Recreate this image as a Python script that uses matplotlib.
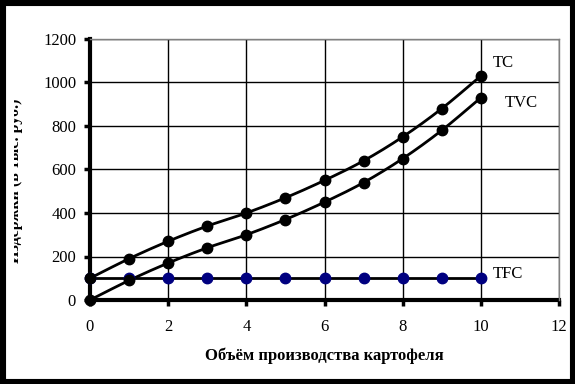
import numpy as np
import matplotlib
matplotlib.use("Agg")
import matplotlib.pyplot as plt
from matplotlib.patches import Rectangle
from matplotlib.transforms import Bbox

q = [0, 1, 2, 3, 4, 5, 6, 7, 8, 9, 10]
tc = [100, 190, 270, 340, 400, 470, 550, 640, 750, 880, 1030]
tvc = [0, 90, 170, 240, 300, 370, 450, 540, 650, 780, 930]
tfc = [100, 100, 100, 100, 100, 100, 100, 100, 100, 100, 100]
x_ticks = [0, 2, 4, 6, 8, 10, 12]
y_ticks = [0, 200, 400, 600, 800, 1000, 1200]

serif = ["Liberation Serif", "DejaVu Serif"]
plt.rcParams['font.family'] = serif


def smooth(x, y, n=20):
    # Catmull-Rom spline through data points (like Excel smoothed lines)
    x = np.asarray(x, float); y = np.asarray(y, float)
    px = np.concatenate([[2 * x[0] - x[1]], x, [2 * x[-1] - x[-2]]])
    py = np.concatenate([[2 * y[0] - y[1]], y, [2 * y[-1] - y[-2]]])
    xs, ys = [], []
    t = np.linspace(0, 1, n, endpoint=False)
    for i in range(1, len(px) - 2):
        for arr, out in ((px, xs), (py, ys)):
            p0, p1, p2, p3 = arr[i - 1], arr[i], arr[i + 1], arr[i + 2]
            out.extend(0.5 * ((2 * p1) + (-p0 + p2) * t
                              + (2 * p0 - 5 * p1 + 4 * p2 - p3) * t ** 2
                              + (-p0 + 3 * p1 - 3 * p2 + p3) * t ** 3))
    xs.append(x[-1]); ys.append(y[-1])
    return np.array(xs), np.array(ys)


fig = plt.figure(figsize=(5.75, 3.84), dpi=100)
ax = fig.add_axes([90 / 575, 1 - 300 / 384, (559 - 90) / 575, (300 - 39) / 384])

ax.set_xlim(0, 12)
ax.set_ylim(0, 1200)
ax.set_xticks(x_ticks)
ax.set_yticks(y_ticks)
ax.grid(True, color='black', linewidth=1.0, zorder=1)
ax.set_axisbelow(True)

for s in ['top', 'right']:
    ax.spines[s].set_color('#808080')
    ax.spines[s].set_linewidth(1.0)
for s in ['left', 'bottom']:
    ax.spines[s].set_color('black')
    ax.spines[s].set_linewidth(3.0)
    ax.spines[s].set_zorder(2)

ax.tick_params(axis='both', direction='out', length=4, width=2.5, labelsize=12, pad=6, colors='black')
ax.tick_params(axis='x', pad=10)

# TFC
ax.plot(q, tfc, color='black', linewidth=2, zorder=3)
ax.plot(q, tfc, linestyle='none', marker='o', markersize=7.5, color='#000080', zorder=4, clip_on=False)
# TVC
sx, sy = smooth(q, tvc)
ax.plot(sx, sy, color='black', linewidth=2, zorder=3)
ax.plot(q, tvc, linestyle='none', marker='o', markersize=7.5, color='black', zorder=5, clip_on=False)
# TC
sx, sy = smooth(q, tc)
ax.plot(sx, sy, color='black', linewidth=2, zorder=3)
ax.plot(q, tc, linestyle='none', marker='o', markersize=7.5, color='black', zorder=5, clip_on=False)

ax.text(10.3, 1090, "TC", fontsize=12, va='center', ha='left')
ax.text(10.6, 905, "TVC", fontsize=12, va='center', ha='left')
ax.text(10.3, 120, "TFC", fontsize=12, va='center', ha='left')

ax.set_xlabel("Объём производства картофеля", fontsize=12, fontweight='bold', labelpad=9)

# y label, partially cut off as in the reference
yl = fig.text(19.5 / 575, 1 - 181 / 384, "Издержки (в тыс. руб.)", rotation=90,
              rotation_mode='anchor', fontsize=11.5, fontweight='bold',
              ha='center', va='baseline')
yl.set_clip_box(Bbox.from_extents(13.5, 0, 40, 384))
yl.set_clip_on(True)

fig.patches.append(Rectangle((0, 0), 1, 1, transform=fig.transFigure, fill=False,
                             edgecolor='black', linewidth=8, zorder=10))

fig.savefig("out.png", dpi=100, facecolor='white')
